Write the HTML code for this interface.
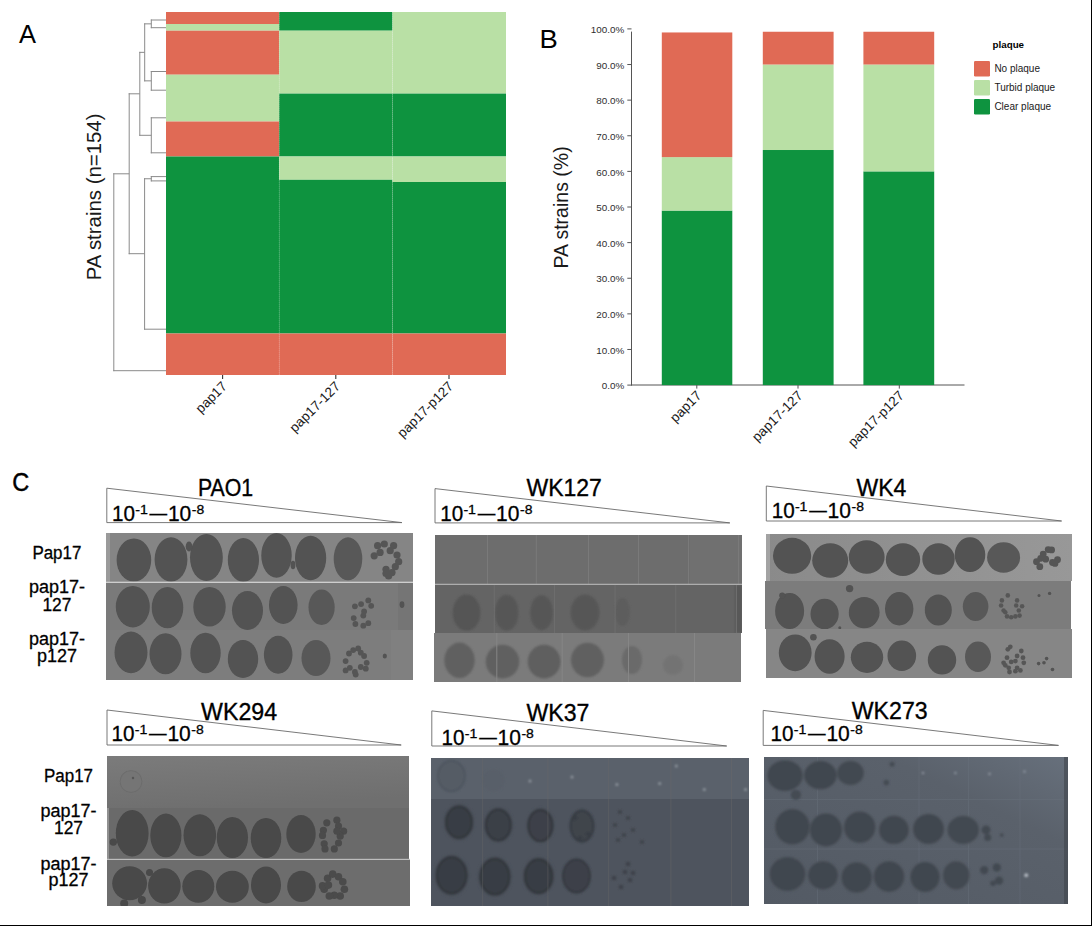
<!DOCTYPE html>
<html><head><meta charset="utf-8"><style>
html,body{margin:0;padding:0;background:#fff;}
body{width:1092px;height:926px;overflow:hidden;position:relative;}
svg{position:absolute;left:0;top:0;display:block;}
</style></head><body>
<svg width="1092" height="926" viewBox="0 0 1092 926">
<rect x="1091" y="0" width="1" height="926" fill="#000"/>
<rect x="0" y="925" width="1092" height="1" fill="#000"/>
<text x="19" y="43.2" font-family="Liberation Sans, sans-serif" font-size="25.5" fill="#000">A</text>
<rect x="166" y="12" width="113.20" height="12.00" fill="#E06A55"/>
<rect x="166" y="24" width="113.20" height="6.70" fill="#B9E0A5"/>
<rect x="166" y="30.7" width="113.20" height="44.00" fill="#E06A55"/>
<rect x="166" y="74.7" width="113.20" height="46.80" fill="#B9E0A5"/>
<rect x="166" y="121.5" width="113.20" height="35.00" fill="#E06A55"/>
<rect x="166" y="156.5" width="113.20" height="177.00" fill="#0E933F"/>
<rect x="166" y="333.5" width="113.20" height="41.50" fill="#E06A55"/>
<rect x="279.2" y="12" width="113.30" height="18.70" fill="#0E933F"/>
<rect x="279.2" y="30.7" width="113.30" height="62.90" fill="#B9E0A5"/>
<rect x="279.2" y="93.6" width="113.30" height="62.90" fill="#0E933F"/>
<rect x="279.2" y="156.5" width="113.30" height="23.30" fill="#B9E0A5"/>
<rect x="279.2" y="179.8" width="113.30" height="153.70" fill="#0E933F"/>
<rect x="279.2" y="333.5" width="113.30" height="41.50" fill="#E06A55"/>
<rect x="392.5" y="12" width="113.50" height="81.60" fill="#B9E0A5"/>
<rect x="392.5" y="93.6" width="113.50" height="62.90" fill="#0E933F"/>
<rect x="392.5" y="156.5" width="113.50" height="25.50" fill="#B9E0A5"/>
<rect x="392.5" y="182" width="113.50" height="151.50" fill="#0E933F"/>
<rect x="392.5" y="333.5" width="113.50" height="41.50" fill="#E06A55"/>
<line x1="279.2" y1="12" x2="279.2" y2="375" stroke="#fff" stroke-opacity="0.25" stroke-width="0.6" stroke-dasharray="1 1"/>
<line x1="392.5" y1="12" x2="392.5" y2="375" stroke="#fff" stroke-opacity="0.25" stroke-width="0.6" stroke-dasharray="1 1"/>
<path d="M150.8,20H166M150.8,27.7H166M151.3,19.5V28.2M144.2,23.85H151.3M150.8,71.5H166M150.8,90.2H166M151.3,71.0V90.7M144.2,80.85H151.3M144.7,23.35V81.35M139.3,52.35H144.7M150.8,117.8H166M150.8,152.8H166M151.3,117.3V153.3M139.3,135.3H151.3M139.8,51.85V135.8M128.7,93.8H139.8M129.2,93.3V254.2M150.8,176.6H166M150.8,180.9H166M151.3,176.1V181.4M144.1,178.75H151.3M144.1,329.2H166M144.6,178.25V329.7M128.7,253.7H144.6M113.3,173.8H129.2M113.3,370.7H166M113.8,173.3V371.2" stroke="#8a8a8a" stroke-width="1" fill="none"/>
<line x1="222.6" y1="375" x2="222.6" y2="379" stroke="#333" stroke-width="1.1"/>
<text x="227.79999999999998" y="387.2" font-family="Liberation Sans, sans-serif" font-size="13.6" fill="#1a1a1a" text-anchor="end" transform="rotate(-45 227.79999999999998 387.2)">pap17</text>
<line x1="335.8" y1="375" x2="335.8" y2="379" stroke="#333" stroke-width="1.1"/>
<text x="341.0" y="387.2" font-family="Liberation Sans, sans-serif" font-size="13.6" fill="#1a1a1a" text-anchor="end" transform="rotate(-45 341.0 387.2)">pap17-127</text>
<line x1="449" y1="375" x2="449" y2="379" stroke="#333" stroke-width="1.1"/>
<text x="454.2" y="387.2" font-family="Liberation Sans, sans-serif" font-size="13.6" fill="#1a1a1a" text-anchor="end" transform="rotate(-45 454.2 387.2)">pap17-p127</text>
<text x="100.6" y="196.9" font-family="Liberation Sans, sans-serif" font-size="20.4" fill="#1a1a1a" text-anchor="middle" transform="rotate(-90 100.6 196.9)">PA strains (n=154)</text>
<text x="539.6" y="48.3" font-family="Liberation Sans, sans-serif" font-size="25" fill="#000" textLength="18.3" lengthAdjust="spacingAndGlyphs">B</text>
<path d="M631.5,31.6V385.5M631,385H964.5" stroke="#555" stroke-width="1" fill="none"/>
<line x1="627.3" y1="385.10" x2="631.5" y2="385.10" stroke="#555" stroke-width="1"/>
<text x="624.3" y="389.30" font-family="Liberation Sans, sans-serif" font-size="9.9" fill="#2e2e2e" text-anchor="end">0.0%</text>
<line x1="627.3" y1="349.48" x2="631.5" y2="349.48" stroke="#555" stroke-width="1"/>
<text x="624.3" y="353.68" font-family="Liberation Sans, sans-serif" font-size="9.9" fill="#2e2e2e" text-anchor="end">10.0%</text>
<line x1="627.3" y1="313.86" x2="631.5" y2="313.86" stroke="#555" stroke-width="1"/>
<text x="624.3" y="318.06" font-family="Liberation Sans, sans-serif" font-size="9.9" fill="#2e2e2e" text-anchor="end">20.0%</text>
<line x1="627.3" y1="278.24" x2="631.5" y2="278.24" stroke="#555" stroke-width="1"/>
<text x="624.3" y="282.44" font-family="Liberation Sans, sans-serif" font-size="9.9" fill="#2e2e2e" text-anchor="end">30.0%</text>
<line x1="627.3" y1="242.62" x2="631.5" y2="242.62" stroke="#555" stroke-width="1"/>
<text x="624.3" y="246.82" font-family="Liberation Sans, sans-serif" font-size="9.9" fill="#2e2e2e" text-anchor="end">40.0%</text>
<line x1="627.3" y1="207.00" x2="631.5" y2="207.00" stroke="#555" stroke-width="1"/>
<text x="624.3" y="211.20" font-family="Liberation Sans, sans-serif" font-size="9.9" fill="#2e2e2e" text-anchor="end">50.0%</text>
<line x1="627.3" y1="171.38" x2="631.5" y2="171.38" stroke="#555" stroke-width="1"/>
<text x="624.3" y="175.58" font-family="Liberation Sans, sans-serif" font-size="9.9" fill="#2e2e2e" text-anchor="end">60.0%</text>
<line x1="627.3" y1="135.76" x2="631.5" y2="135.76" stroke="#555" stroke-width="1"/>
<text x="624.3" y="139.96" font-family="Liberation Sans, sans-serif" font-size="9.9" fill="#2e2e2e" text-anchor="end">70.0%</text>
<line x1="627.3" y1="100.14" x2="631.5" y2="100.14" stroke="#555" stroke-width="1"/>
<text x="624.3" y="104.34" font-family="Liberation Sans, sans-serif" font-size="9.9" fill="#2e2e2e" text-anchor="end">80.0%</text>
<line x1="627.3" y1="64.52" x2="631.5" y2="64.52" stroke="#555" stroke-width="1"/>
<text x="624.3" y="68.72" font-family="Liberation Sans, sans-serif" font-size="9.9" fill="#2e2e2e" text-anchor="end">90.0%</text>
<line x1="627.3" y1="28.90" x2="631.5" y2="28.90" stroke="#555" stroke-width="1"/>
<text x="624.3" y="33.10" font-family="Liberation Sans, sans-serif" font-size="9.9" fill="#2e2e2e" text-anchor="end">100.0%</text>
<rect x="661.8" y="210.56" width="70.5" height="174.54" fill="#0E933F"/>
<rect x="661.8" y="157.13" width="70.5" height="53.43" fill="#B9E0A5"/>
<rect x="661.8" y="32.46" width="70.5" height="124.67" fill="#E06A55"/>
<rect x="762.8" y="150.01" width="70.8" height="235.09" fill="#0E933F"/>
<rect x="762.8" y="64.52" width="70.8" height="85.49" fill="#B9E0A5"/>
<rect x="762.8" y="31.75" width="70.8" height="32.77" fill="#E06A55"/>
<rect x="863.4" y="171.38" width="70.8" height="213.72" fill="#0E933F"/>
<rect x="863.4" y="64.52" width="70.8" height="106.86" fill="#B9E0A5"/>
<rect x="863.4" y="31.75" width="70.8" height="32.77" fill="#E06A55"/>
<line x1="696.8" y1="385" x2="696.8" y2="388.6" stroke="#555" stroke-width="1"/>
<text x="702.3" y="396.5" font-family="Liberation Sans, sans-serif" font-size="13.6" fill="#1a1a1a" text-anchor="end" transform="rotate(-45 702.3 396.5)">pap17</text>
<line x1="798" y1="385" x2="798" y2="388.6" stroke="#555" stroke-width="1"/>
<text x="803.5" y="396.5" font-family="Liberation Sans, sans-serif" font-size="13.6" fill="#1a1a1a" text-anchor="end" transform="rotate(-45 803.5 396.5)">pap17-127</text>
<line x1="899.3" y1="385" x2="899.3" y2="388.6" stroke="#555" stroke-width="1"/>
<text x="904.8" y="396.5" font-family="Liberation Sans, sans-serif" font-size="13.6" fill="#1a1a1a" text-anchor="end" transform="rotate(-45 904.8 396.5)">pap17-p127</text>
<text x="567.6" y="207.4" font-family="Liberation Sans, sans-serif" font-size="19.5" fill="#1a1a1a" text-anchor="middle" transform="rotate(-90 567.6 207.4)">PA strains (%)</text>
<text x="992.5" y="48.1" font-family="Liberation Sans, sans-serif" font-size="9.8" font-weight="bold" fill="#000">plaque</text>
<rect x="974" y="61" width="16" height="15.4" rx="1.2" fill="#E06A55"/>
<text x="994.4" y="71.8" font-family="Liberation Sans, sans-serif" font-size="10" fill="#1a1a1a">No plaque</text>
<rect x="974" y="80" width="16" height="15.4" rx="1.2" fill="#B9E0A5"/>
<text x="994.4" y="90.8" font-family="Liberation Sans, sans-serif" font-size="10" fill="#1a1a1a">Turbid plaque</text>
<rect x="974" y="99" width="16" height="15.4" rx="1.2" fill="#0E933F"/>
<text x="994.4" y="109.8" font-family="Liberation Sans, sans-serif" font-size="10" fill="#1a1a1a">Clear plaque</text>
<text x="12.2" y="491.2" font-family="Liberation Sans, sans-serif" font-size="26.4" fill="#000" stroke="#000" stroke-width="0.45" textLength="17" lengthAdjust="spacingAndGlyphs">C</text>
<path d="M106.8,488.2L401.9,522.6H106.8Z" fill="#fff" stroke="#6a6a6a" stroke-width="0.9"/>
<text x="197.9" y="495.6" font-family="Liberation Sans, sans-serif" font-size="23.6" fill="#000" stroke="#000" stroke-width="0.35" textLength="55.2" lengthAdjust="spacingAndGlyphs">PAO1</text>
<text font-family="Liberation Sans, sans-serif" fill="#000" stroke="#000" stroke-width="0.3"><tspan x="112.0" y="520.8" font-size="21.3" textLength="23" lengthAdjust="spacingAndGlyphs">10</tspan><tspan x="135.2" y="513.8" font-size="13.2" textLength="12.6" lengthAdjust="spacingAndGlyphs">-1</tspan><tspan x="149.6" y="519.6" font-size="20" textLength="17.6" lengthAdjust="spacingAndGlyphs">&#8212;</tspan><tspan x="167.9" y="520.8" font-size="21.3" textLength="23.4" lengthAdjust="spacingAndGlyphs">10</tspan><tspan x="191.8" y="513.8" font-size="13.2" textLength="12.4" lengthAdjust="spacingAndGlyphs">-8</tspan></text>
<text x="56.9" y="558.8" font-family="Liberation Sans, sans-serif" font-size="18" fill="#000" stroke="#000" stroke-width="0.3" text-anchor="middle" textLength="49" lengthAdjust="spacingAndGlyphs">Pap17</text>
<text x="56.9" y="593.2" font-family="Liberation Sans, sans-serif" font-size="18" fill="#000" stroke="#000" stroke-width="0.3" text-anchor="middle" textLength="56" lengthAdjust="spacingAndGlyphs">pap17-</text>
<text x="56.9" y="610.5" font-family="Liberation Sans, sans-serif" font-size="18" fill="#000" stroke="#000" stroke-width="0.3" text-anchor="middle" textLength="29" lengthAdjust="spacingAndGlyphs">127</text>
<text x="56.9" y="645.4" font-family="Liberation Sans, sans-serif" font-size="18" fill="#000" stroke="#000" stroke-width="0.3" text-anchor="middle" textLength="56" lengthAdjust="spacingAndGlyphs">pap17-</text>
<text x="56.9" y="661.6" font-family="Liberation Sans, sans-serif" font-size="18" fill="#000" stroke="#000" stroke-width="0.3" text-anchor="middle" textLength="40" lengthAdjust="spacingAndGlyphs">p127</text>
<g clip-path="url(#c1)">
<rect x="106" y="533" width="307" height="49" fill="#858585"/>
<g filter="url(#soft2)">
<rect x="106" y="533" width="4" height="49" fill="#9a9a9a"/>
<ellipse cx="133.9" cy="560" rx="17.3" ry="21.6" fill="#525252"/>
<ellipse cx="171" cy="559.5" rx="16.4" ry="22.2" fill="#525252"/>
<ellipse cx="206.4" cy="557.5" rx="16.4" ry="23.6" fill="#525252"/>
<ellipse cx="243.4" cy="560" rx="15.6" ry="22" fill="#525252"/>
<ellipse cx="276.5" cy="555.4" rx="15.2" ry="22.3" fill="#525252"/>
<ellipse cx="310.6" cy="558" rx="15.6" ry="22.3" fill="#525252"/>
<ellipse cx="348" cy="558.8" rx="14.3" ry="21.5" fill="#585858"/>
<ellipse cx="189" cy="546.5" rx="3.3" ry="5" fill="#525252"/>
<ellipse cx="293" cy="565" rx="2.4" ry="4.2" fill="#525252"/>
<circle cx="377.6" cy="545.7" r="3.6" fill="#555"/>
<circle cx="384.3" cy="544" r="3.6" fill="#555"/>
<circle cx="393.6" cy="545.7" r="3.6" fill="#555"/>
<circle cx="374.2" cy="555.8" r="3.6" fill="#555"/>
<circle cx="380.1" cy="552.4" r="3.6" fill="#555"/>
<circle cx="390.2" cy="550.7" r="3.6" fill="#555"/>
<circle cx="397" cy="555" r="3.6" fill="#555"/>
<circle cx="398.7" cy="561.7" r="3.6" fill="#555"/>
<circle cx="395.3" cy="566.7" r="3.6" fill="#555"/>
<circle cx="386" cy="569.3" r="3.6" fill="#555"/>
<circle cx="392" cy="572.6" r="3.6" fill="#555"/>
<circle cx="386" cy="573.5" r="3.6" fill="#555"/>
<circle cx="388.6" cy="576" r="3.6" fill="#555"/>
</g>
</g>
<rect x="106" y="581.6" width="307" height="1.2" fill="#c2c2c2"/>
<g clip-path="url(#c2)">
<rect x="106" y="583" width="307" height="47" fill="#7a7a7a"/>
<g filter="url(#soft2)">
<ellipse cx="132.8" cy="606.7" rx="17" ry="20.7" fill="#525252"/>
<ellipse cx="167.5" cy="607.6" rx="15.8" ry="20.6" fill="#525252"/>
<ellipse cx="209.5" cy="606.8" rx="16.2" ry="19.8" fill="#525252"/>
<ellipse cx="247.5" cy="610.5" rx="15.5" ry="19.5" fill="#525252"/>
<ellipse cx="283.3" cy="605" rx="14.3" ry="19" fill="#525252"/>
<ellipse cx="321.6" cy="607.2" rx="13.1" ry="17.7" fill="#585858"/>
<circle cx="354.9" cy="606.3" r="2.9" fill="#555"/>
<circle cx="361.1" cy="604.1" r="2.9" fill="#555"/>
<circle cx="368.3" cy="600.4" r="2.9" fill="#555"/>
<circle cx="371.2" cy="605.8" r="2.9" fill="#555"/>
<circle cx="364.1" cy="611.4" r="2.9" fill="#555"/>
<circle cx="363.3" cy="615.6" r="2.9" fill="#555"/>
<circle cx="353.7" cy="618.1" r="2.9" fill="#555"/>
<circle cx="355.4" cy="624" r="2.9" fill="#555"/>
<circle cx="363.3" cy="625.7" r="2.9" fill="#555"/>
<circle cx="368.3" cy="623.2" r="2.9" fill="#555"/>
<rect x="398" y="583" width="15" height="47" fill="#757575"/>
<ellipse cx="402" cy="604.6" rx="2.4" ry="3.4" fill="#525252"/>
</g>
</g>
<g clip-path="url(#c3)">
<rect x="106" y="630" width="307" height="50" fill="#7d7d7d"/>
<g filter="url(#soft2)">
<rect x="391" y="630" width="22" height="50" fill="#808080"/>
<ellipse cx="131" cy="652.4" rx="16.5" ry="20.8" fill="#525252"/>
<ellipse cx="165.5" cy="653.8" rx="16" ry="20.5" fill="#525252"/>
<ellipse cx="205.5" cy="653" rx="15.2" ry="20.2" fill="#525252"/>
<ellipse cx="243" cy="659" rx="15.2" ry="19" fill="#525252"/>
<ellipse cx="278.2" cy="654.8" rx="14.3" ry="19" fill="#525252"/>
<ellipse cx="316" cy="658" rx="14.5" ry="18" fill="#585858"/>
<circle cx="349" cy="653.5" r="2.9" fill="#555"/>
<circle cx="353.2" cy="650.1" r="2.9" fill="#555"/>
<circle cx="358.2" cy="648.5" r="2.9" fill="#555"/>
<circle cx="360.8" cy="652.7" r="2.9" fill="#555"/>
<circle cx="364.1" cy="656" r="2.9" fill="#555"/>
<circle cx="366.7" cy="662.8" r="2.9" fill="#555"/>
<circle cx="365.8" cy="668.7" r="2.9" fill="#555"/>
<circle cx="360.8" cy="667" r="2.9" fill="#555"/>
<circle cx="354.9" cy="672" r="2.9" fill="#555"/>
<circle cx="349.8" cy="667.8" r="2.9" fill="#555"/>
<circle cx="345.6" cy="661.1" r="2.9" fill="#555"/>
<circle cx="345.6" cy="670.4" r="2.9" fill="#555"/>
<circle cx="355.7" cy="674.6" r="2.9" fill="#555"/>
<ellipse cx="384.8" cy="656" rx="2.1" ry="2.6" fill="#525252"/>
</g>
</g>
<path d="M435,488.6L729.8,522.9H435Z" fill="#fff" stroke="#6a6a6a" stroke-width="0.9"/>
<text x="526.5" y="495.9" font-family="Liberation Sans, sans-serif" font-size="23.6" fill="#000" stroke="#000" stroke-width="0.35" textLength="75.4" lengthAdjust="spacingAndGlyphs">WK127</text>
<text font-family="Liberation Sans, sans-serif" fill="#000" stroke="#000" stroke-width="0.3"><tspan x="440.2" y="520.9" font-size="21.3" textLength="23" lengthAdjust="spacingAndGlyphs">10</tspan><tspan x="463.4" y="513.9" font-size="13.2" textLength="12.6" lengthAdjust="spacingAndGlyphs">-1</tspan><tspan x="477.8" y="519.7" font-size="20" textLength="17.6" lengthAdjust="spacingAndGlyphs">&#8212;</tspan><tspan x="496.1" y="520.9" font-size="21.3" textLength="23.4" lengthAdjust="spacingAndGlyphs">10</tspan><tspan x="520.0" y="513.9" font-size="13.2" textLength="12.4" lengthAdjust="spacingAndGlyphs">-8</tspan></text>
<g clip-path="url(#c4)">
<rect x="435" y="535" width="307" height="49" fill="#6d6d6d"/>
<rect x="690" y="535" width="52" height="49" fill="#707070"/>
<rect x="487" y="535" width="1" height="49" fill="#7a7a7a"/><rect x="535.8" y="535" width="1" height="49" fill="#7a7a7a"/><rect x="588" y="535" width="1" height="49" fill="#7a7a7a"/><rect x="638" y="535" width="1" height="49" fill="#7a7a7a"/><rect x="688" y="535" width="1" height="49" fill="#7a7a7a"/><rect x="738" y="535" width="1" height="49" fill="#7a7a7a"/></g>
<rect x="435" y="583.7" width="307" height="1.2" fill="#a5a5a5"/>
<g clip-path="url(#c5)">
<rect x="435" y="585" width="307" height="48" fill="#646464"/>
<g filter="url(#soft)">
<ellipse cx="466.6" cy="612.7" rx="13.9" ry="18.1" fill="#555"/>
<ellipse cx="506.7" cy="612.7" rx="11.8" ry="18" fill="#565656"/>
<ellipse cx="541.6" cy="612.7" rx="11.4" ry="17.5" fill="#565656"/>
<ellipse cx="585" cy="612.5" rx="14.5" ry="18" fill="#575757"/>
<ellipse cx="622.5" cy="612" rx="7.5" ry="14" fill="#5d5d5d"/>
<rect x="735" y="585" width="7" height="48" fill="#595959"/>
</g>
<rect x="493.8" y="585" width="1" height="48" fill="#6e6e6e"/><rect x="553.9" y="585" width="1" height="48" fill="#6e6e6e"/><rect x="614.6" y="585" width="1" height="48" fill="#6e6e6e"/><rect x="675.3" y="585" width="1" height="48" fill="#6e6e6e"/><rect x="736" y="585" width="1" height="48" fill="#6e6e6e"/></g>
<g clip-path="url(#c6)">
<rect x="434" y="633" width="307" height="49" fill="#7b7b7b"/>
<g filter="url(#soft)">
<ellipse cx="459.5" cy="660.3" rx="15.2" ry="17.7" fill="#606060"/>
<ellipse cx="502.5" cy="661.6" rx="16.8" ry="16.8" fill="#606060"/>
<ellipse cx="544.1" cy="661.6" rx="16.4" ry="16.8" fill="#5f5f5f"/>
<ellipse cx="587.5" cy="660" rx="16.5" ry="17.2" fill="#616161"/>
<ellipse cx="632" cy="660" rx="10" ry="14" fill="#6a6a6a"/>
<ellipse cx="673" cy="665" rx="10" ry="10" fill="#737373"/>
</g>
<rect x="496.3" y="633" width="1" height="49" fill="#868686"/><rect x="561.7" y="633" width="1" height="49" fill="#868686"/><rect x="628" y="633" width="1" height="49" fill="#868686"/><rect x="694" y="633" width="1" height="49" fill="#868686"/></g>
<path d="M766.3,486L1061.6,521H766.3Z" fill="#fff" stroke="#6a6a6a" stroke-width="0.9"/>
<text x="856.5" y="495.7" font-family="Liberation Sans, sans-serif" font-size="23.6" fill="#000" stroke="#000" stroke-width="0.35" textLength="49.8" lengthAdjust="spacingAndGlyphs">WK4</text>
<text font-family="Liberation Sans, sans-serif" fill="#000" stroke="#000" stroke-width="0.3"><tspan x="771.7" y="518.2" font-size="21.3" textLength="23" lengthAdjust="spacingAndGlyphs">10</tspan><tspan x="794.9" y="511.2" font-size="13.2" textLength="12.6" lengthAdjust="spacingAndGlyphs">-1</tspan><tspan x="809.3" y="517.0" font-size="20" textLength="17.6" lengthAdjust="spacingAndGlyphs">&#8212;</tspan><tspan x="827.6" y="518.2" font-size="21.3" textLength="23.4" lengthAdjust="spacingAndGlyphs">10</tspan><tspan x="851.5" y="511.2" font-size="13.2" textLength="12.4" lengthAdjust="spacingAndGlyphs">-8</tspan></text>
<g clip-path="url(#c7)">
<rect x="766" y="534" width="306" height="47" fill="url(#g4)"/>
<g filter="url(#soft2)">
<rect x="766" y="534" width="4" height="47" fill="#a3a3a3"/>
<ellipse cx="792.1" cy="555.8" rx="19.1" ry="18" fill="#525252"/>
<ellipse cx="830.2" cy="560.5" rx="18" ry="17.3" fill="#525252"/>
<ellipse cx="866.7" cy="557" rx="17.9" ry="16.8" fill="#525252"/>
<ellipse cx="903" cy="559.6" rx="17.2" ry="16.4" fill="#525252"/>
<ellipse cx="938.5" cy="559" rx="16.2" ry="15.8" fill="#525252"/>
<ellipse cx="970" cy="554.7" rx="15.3" ry="17.4" fill="#525252"/>
<ellipse cx="1003.6" cy="557.5" rx="16.5" ry="15.2" fill="#585858"/>
<circle cx="1048.2" cy="549.6" r="3.4" fill="#555"/>
<circle cx="1051.6" cy="549.9" r="3.4" fill="#555"/>
<circle cx="1043.2" cy="554.1" r="3.4" fill="#555"/>
<circle cx="1045.7" cy="559.2" r="3.4" fill="#555"/>
<circle cx="1040.7" cy="558.3" r="3.4" fill="#555"/>
<circle cx="1036.5" cy="561.7" r="3.4" fill="#555"/>
<circle cx="1039.8" cy="566.7" r="3.4" fill="#555"/>
<circle cx="1052.5" cy="562.5" r="3.4" fill="#555"/>
<circle cx="1057.5" cy="559.7" r="3.4" fill="#555"/>
<circle cx="1055" cy="563.4" r="3.4" fill="#555"/>
</g>
</g>
<g clip-path="url(#c8)">
<rect x="765" y="581" width="306" height="48" fill="#7c7c7c"/>
<g filter="url(#soft2)">
<ellipse cx="789.6" cy="611" rx="14.5" ry="18.1" fill="#525252"/>
<ellipse cx="782.2" cy="595.4" rx="3" ry="3" fill="#525252"/>
<ellipse cx="824.6" cy="614" rx="14.1" ry="15.2" fill="#525252"/>
<ellipse cx="864.2" cy="612.6" rx="15.4" ry="15.6" fill="#525252"/>
<ellipse cx="899.2" cy="608.7" rx="14.2" ry="16.7" fill="#525252"/>
<ellipse cx="849.6" cy="588.6" rx="3.7" ry="3.7" fill="#525252"/>
<ellipse cx="839.8" cy="627.7" rx="1.5" ry="1.5" fill="#525252"/>
<ellipse cx="938.3" cy="610" rx="13.5" ry="15.6" fill="#525252"/>
<ellipse cx="975.6" cy="606.5" rx="12.8" ry="14.5" fill="#585858"/>
<circle cx="1007.8" cy="595.4" r="2.3" fill="#575757"/>
<circle cx="1001.9" cy="600.4" r="2.3" fill="#575757"/>
<circle cx="1017.1" cy="600.4" r="2.3" fill="#575757"/>
<circle cx="1001.1" cy="605.5" r="2.3" fill="#575757"/>
<circle cx="1016.2" cy="605.5" r="2.3" fill="#575757"/>
<circle cx="1022.1" cy="606.3" r="2.3" fill="#575757"/>
<circle cx="1003.6" cy="610.5" r="2.3" fill="#575757"/>
<circle cx="1018.8" cy="610.5" r="2.3" fill="#575757"/>
<circle cx="1007" cy="616.4" r="2.3" fill="#575757"/>
<circle cx="1011.2" cy="617.3" r="2.3" fill="#575757"/>
<circle cx="1015.4" cy="616.4" r="2.3" fill="#575757"/>
<circle cx="1019.6" cy="615.6" r="2.3" fill="#575757"/>
<circle cx="1005.3" cy="612.2" r="2.3" fill="#575757"/>
<ellipse cx="1039" cy="595.4" rx="1.5" ry="1.5" fill="#525252"/>
<ellipse cx="1049.6" cy="593.4" rx="1.7" ry="1.7" fill="#525252"/>
</g>
</g>
<g clip-path="url(#c9)">
<rect x="766" y="629" width="306" height="49" fill="#868686"/>
<g filter="url(#soft2)">
<ellipse cx="795.2" cy="652.8" rx="16.4" ry="18.4" fill="#525252"/>
<ellipse cx="813.4" cy="637.2" rx="3.3" ry="3.3" fill="#525252"/>
<ellipse cx="829.6" cy="656.5" rx="15" ry="17.3" fill="#525252"/>
<ellipse cx="867" cy="657.3" rx="16.2" ry="15.6" fill="#525252"/>
<ellipse cx="901.8" cy="655.7" rx="14.3" ry="15.2" fill="#525252"/>
<ellipse cx="942" cy="659.9" rx="14.2" ry="14.7" fill="#525252"/>
<ellipse cx="978" cy="656.8" rx="13" ry="15.2" fill="#585858"/>
<circle cx="1010.3" cy="646.8" r="2.4" fill="#575757"/>
<circle cx="1007.8" cy="649.3" r="2.4" fill="#575757"/>
<circle cx="1021.3" cy="651" r="2.4" fill="#575757"/>
<circle cx="1007" cy="657.7" r="2.4" fill="#575757"/>
<circle cx="1017.1" cy="656" r="2.4" fill="#575757"/>
<circle cx="1023" cy="657.7" r="2.4" fill="#575757"/>
<circle cx="1003.6" cy="662.8" r="2.4" fill="#575757"/>
<circle cx="1011.2" cy="661.9" r="2.4" fill="#575757"/>
<circle cx="1015.4" cy="661.1" r="2.4" fill="#575757"/>
<circle cx="1023.8" cy="662.8" r="2.4" fill="#575757"/>
<circle cx="1008.7" cy="667.8" r="2.4" fill="#575757"/>
<circle cx="1017.1" cy="667.8" r="2.4" fill="#575757"/>
<circle cx="1020.4" cy="670.4" r="2.4" fill="#575757"/>
<circle cx="1009.5" cy="672" r="2.4" fill="#575757"/>
<circle cx="1015.4" cy="671.2" r="2.4" fill="#575757"/>
<circle cx="1005.3" cy="665.3" r="2.4" fill="#575757"/>
<circle cx="1038.6" cy="663.6" r="1.8" fill="#525252"/>
<circle cx="1044" cy="662.8" r="1.8" fill="#525252"/>
<circle cx="1046.6" cy="658.6" r="1.8" fill="#525252"/>
<circle cx="1052.5" cy="669.5" r="1.8" fill="#525252"/>
</g>
</g>
<path d="M107,710L401.2,745H107Z" fill="#fff" stroke="#6a6a6a" stroke-width="0.9"/>
<text x="201.1" y="720.3" font-family="Liberation Sans, sans-serif" font-size="23.6" fill="#000" stroke="#000" stroke-width="0.35" textLength="76.0" lengthAdjust="spacingAndGlyphs">WK294</text>
<text font-family="Liberation Sans, sans-serif" fill="#000" stroke="#000" stroke-width="0.3"><tspan x="111.5" y="741.4" font-size="21.3" textLength="23" lengthAdjust="spacingAndGlyphs">10</tspan><tspan x="134.7" y="734.4" font-size="13.2" textLength="12.6" lengthAdjust="spacingAndGlyphs">-1</tspan><tspan x="149.1" y="740.2" font-size="20" textLength="17.6" lengthAdjust="spacingAndGlyphs">&#8212;</tspan><tspan x="167.4" y="741.4" font-size="21.3" textLength="23.4" lengthAdjust="spacingAndGlyphs">10</tspan><tspan x="191.3" y="734.4" font-size="13.2" textLength="12.4" lengthAdjust="spacingAndGlyphs">-8</tspan></text>
<text x="68.5" y="782.2" font-family="Liberation Sans, sans-serif" font-size="18" fill="#000" stroke="#000" stroke-width="0.3" text-anchor="middle" textLength="49" lengthAdjust="spacingAndGlyphs">Pap17</text>
<text x="68.5" y="816.6" font-family="Liberation Sans, sans-serif" font-size="18" fill="#000" stroke="#000" stroke-width="0.3" text-anchor="middle" textLength="56" lengthAdjust="spacingAndGlyphs">pap17-</text>
<text x="68.5" y="834.1" font-family="Liberation Sans, sans-serif" font-size="18" fill="#000" stroke="#000" stroke-width="0.3" text-anchor="middle" textLength="29" lengthAdjust="spacingAndGlyphs">127</text>
<text x="68.5" y="870" font-family="Liberation Sans, sans-serif" font-size="18" fill="#000" stroke="#000" stroke-width="0.3" text-anchor="middle" textLength="56" lengthAdjust="spacingAndGlyphs">pap17-</text>
<text x="68.5" y="885.5" font-family="Liberation Sans, sans-serif" font-size="18" fill="#000" stroke="#000" stroke-width="0.3" text-anchor="middle" textLength="40" lengthAdjust="spacingAndGlyphs">p127</text>
<g clip-path="url(#c10)">
<rect x="107" y="756" width="302" height="52" fill="url(#g294)"/>
<g filter="url(#soft2)">
<ellipse cx="131" cy="781.5" rx="11.3" ry="11.3" fill="#6c6c6c"/>
<ellipse cx="131" cy="781.5" rx="10.5" ry="10.5" fill="#747474"/>
<ellipse cx="133" cy="778" rx="1.2" ry="1.2" fill="#555"/>
</g>
</g>
<g clip-path="url(#c11)">
<rect x="107" y="808" width="302" height="51" fill="#6a6a6a"/>
<g filter="url(#soft2)">
<rect x="107" y="808" width="2" height="51" fill="#909090"/>
<ellipse cx="132.2" cy="833.3" rx="16.4" ry="23.2" fill="#484848"/>
<ellipse cx="113.3" cy="842.1" rx="3.7" ry="3.7" fill="#484848"/>
<ellipse cx="165.9" cy="835.4" rx="15.6" ry="21.9" fill="#484848"/>
<ellipse cx="199.8" cy="835.3" rx="16.3" ry="21" fill="#484848"/>
<ellipse cx="232.4" cy="837.5" rx="15.6" ry="20.6" fill="#484848"/>
<ellipse cx="266" cy="838" rx="15.3" ry="20" fill="#484848"/>
<ellipse cx="301" cy="834" rx="14.7" ry="19" fill="#4a4a4a"/>
<circle cx="326.8" cy="822.8" r="3.6" fill="#4b4b4b"/>
<circle cx="323.4" cy="830.3" r="3.6" fill="#4b4b4b"/>
<circle cx="322.5" cy="835.4" r="3.6" fill="#4b4b4b"/>
<circle cx="324.2" cy="843.8" r="3.6" fill="#4b4b4b"/>
<circle cx="325" cy="848.9" r="3.6" fill="#4b4b4b"/>
<circle cx="336.9" cy="820.2" r="3.6" fill="#4b4b4b"/>
<circle cx="338.5" cy="826.1" r="3.6" fill="#4b4b4b"/>
<circle cx="343.6" cy="831.2" r="3.6" fill="#4b4b4b"/>
<circle cx="340.2" cy="836.2" r="3.6" fill="#4b4b4b"/>
<circle cx="338.5" cy="843" r="3.6" fill="#4b4b4b"/>
<circle cx="334.3" cy="848.9" r="3.6" fill="#4b4b4b"/>
<circle cx="336.9" cy="831.2" r="3.6" fill="#4b4b4b"/>
</g>
</g>
<rect x="107" y="858.8" width="303" height="1.2" fill="#bdbdbd"/>
<g clip-path="url(#c12)">
<rect x="107" y="860" width="303" height="46" fill="#6d6d6d"/>
<g filter="url(#soft2)">
<ellipse cx="129.6" cy="883.2" rx="17.4" ry="17" fill="#484848"/>
<ellipse cx="149.5" cy="872.5" rx="3.5" ry="3.5" fill="#484848"/>
<ellipse cx="141.9" cy="899.9" rx="4" ry="4" fill="#484848"/>
<ellipse cx="124.2" cy="903.6" rx="4" ry="4" fill="#484848"/>
<ellipse cx="164.4" cy="885.9" rx="16.3" ry="17.7" fill="#484848"/>
<ellipse cx="198.3" cy="886.3" rx="16" ry="16.4" fill="#484848"/>
<ellipse cx="232.4" cy="886.8" rx="16.4" ry="16" fill="#484848"/>
<ellipse cx="266" cy="885" rx="15" ry="18.5" fill="#484848"/>
<ellipse cx="301.5" cy="886.4" rx="14.3" ry="15.6" fill="#4a4a4a"/>
<circle cx="327.6" cy="878.3" r="3.8" fill="#4b4b4b"/>
<circle cx="332.7" cy="874.1" r="3.8" fill="#4b4b4b"/>
<circle cx="338.5" cy="876.7" r="3.8" fill="#4b4b4b"/>
<circle cx="342.8" cy="881.7" r="3.8" fill="#4b4b4b"/>
<circle cx="344.4" cy="889.3" r="3.8" fill="#4b4b4b"/>
<circle cx="340.2" cy="896" r="3.8" fill="#4b4b4b"/>
<circle cx="334.3" cy="895.2" r="3.8" fill="#4b4b4b"/>
<circle cx="329.3" cy="896" r="3.8" fill="#4b4b4b"/>
<circle cx="324.2" cy="889.3" r="3.8" fill="#4b4b4b"/>
<circle cx="322.5" cy="885.9" r="3.8" fill="#4b4b4b"/>
<circle cx="328.4" cy="885.1" r="3.8" fill="#4b4b4b"/>
</g>
</g>
<path d="M431.8,710.9L726.7,746H431.8Z" fill="#fff" stroke="#6a6a6a" stroke-width="0.9"/>
<text x="526.5" y="720.9" font-family="Liberation Sans, sans-serif" font-size="23.6" fill="#000" stroke="#000" stroke-width="0.35" textLength="62.8" lengthAdjust="spacingAndGlyphs">WK37</text>
<text font-family="Liberation Sans, sans-serif" fill="#000" stroke="#000" stroke-width="0.3"><tspan x="441.6" y="744.7" font-size="21.3" textLength="23" lengthAdjust="spacingAndGlyphs">10</tspan><tspan x="464.8" y="737.7" font-size="13.2" textLength="12.6" lengthAdjust="spacingAndGlyphs">-1</tspan><tspan x="479.2" y="743.5" font-size="20" textLength="17.6" lengthAdjust="spacingAndGlyphs">&#8212;</tspan><tspan x="497.5" y="744.7" font-size="21.3" textLength="23.4" lengthAdjust="spacingAndGlyphs">10</tspan><tspan x="521.4" y="737.7" font-size="13.2" textLength="12.4" lengthAdjust="spacingAndGlyphs">-8</tspan></text>
<g clip-path="url(#c13)">
<rect x="431" y="758" width="318" height="41" fill="#5a616b"/>
<g filter="url(#soft)">
<ellipse cx="451.4" cy="776" rx="14.4" ry="16.2" fill="#4d545e"/>
<ellipse cx="451.4" cy="776" rx="12.8" ry="14.6" fill="#545b65"/>
<ellipse cx="493.5" cy="780.5" rx="11" ry="11" fill="#585f69"/>
<circle cx="616.9" cy="784.4" r="1.5" fill="#8d949c"/>
<circle cx="659.7" cy="783.5" r="1.5" fill="#8d949c"/>
<circle cx="704.3" cy="789.6" r="1.5" fill="#8d949c"/>
<circle cx="745.5" cy="789.6" r="1.5" fill="#8d949c"/>
<circle cx="676.3" cy="766" r="1.5" fill="#8d949c"/>
<circle cx="530" cy="781" r="1.5" fill="#8d949c"/>
<circle cx="572" cy="777" r="1.5" fill="#8d949c"/>
</g>
</g>
<rect x="431" y="799" width="318" height="107" fill="#4e545e"/>
<g clip-path="url(#c14)">
<g filter="url(#soft)">
<ellipse cx="459" cy="822.2" rx="15.6" ry="18.6" fill="#4a5059"/>
<ellipse cx="459" cy="822.2" rx="15.6" ry="18.6" fill="#4a5059"/>
<ellipse cx="459" cy="822.2" rx="13" ry="15.8" fill="#383d44" stroke="#30353b" stroke-width="2"/>
<ellipse cx="498.3" cy="825" rx="15" ry="18" fill="#4a5059"/>
<ellipse cx="498.3" cy="825" rx="15" ry="18" fill="#4a5059"/>
<ellipse cx="498.3" cy="825" rx="12.4" ry="15.4" fill="#3b4047" stroke="#30353b" stroke-width="2"/>
<ellipse cx="540.4" cy="825.5" rx="14.2" ry="17.8" fill="#4a5059"/>
<ellipse cx="540.4" cy="825.5" rx="14.2" ry="17.8" fill="#4a5059"/>
<ellipse cx="540.4" cy="825.5" rx="12" ry="15.6" fill="#3c4148" stroke="#30353b" stroke-width="2"/>
<ellipse cx="582" cy="826" rx="11.5" ry="15.5" fill="#3f444b" stroke="#363b42" stroke-width="2"/>
<circle cx="575" cy="818" r="2.2" fill="#383d44"/>
<circle cx="588" cy="834" r="2.2" fill="#383d44"/>
<circle cx="580" cy="838" r="2.2" fill="#383d44"/>
<circle cx="620" cy="812" r="2" fill="#3d4249"/>
<circle cx="628" cy="818" r="2" fill="#3d4249"/>
<circle cx="633" cy="830" r="2" fill="#3d4249"/>
<circle cx="618" cy="840" r="2" fill="#3d4249"/>
<circle cx="615" cy="825" r="2" fill="#3d4249"/>
<circle cx="642" cy="842" r="2" fill="#3d4249"/>
<circle cx="624" cy="835" r="2" fill="#3d4249"/>
</g>
</g>
<g clip-path="url(#c15)">
<g filter="url(#soft)">
<ellipse cx="451.6" cy="875.3" rx="17.6" ry="21" fill="#4a5059"/>
<ellipse cx="451.6" cy="875.3" rx="17.6" ry="21" fill="#4a5059"/>
<ellipse cx="451.6" cy="875.3" rx="14.8" ry="18.2" fill="#383d44" stroke="#30353b" stroke-width="2.2"/>
<ellipse cx="494.9" cy="876.7" rx="17.2" ry="20.6" fill="#4a5059"/>
<ellipse cx="494.9" cy="876.7" rx="17.2" ry="20.6" fill="#4a5059"/>
<ellipse cx="494.9" cy="876.7" rx="14.4" ry="17.8" fill="#393e45" stroke="#30353b" stroke-width="2.2"/>
<ellipse cx="538.6" cy="876.2" rx="16.3" ry="19.4" fill="#4a5059"/>
<ellipse cx="538.6" cy="876.2" rx="16.3" ry="19.4" fill="#4a5059"/>
<ellipse cx="538.6" cy="876.2" rx="13.6" ry="16.8" fill="#393e45" stroke="#30353b" stroke-width="2.2"/>
<ellipse cx="576.5" cy="876" rx="13.5" ry="16.5" fill="#3c4148" stroke="#34393f" stroke-width="2"/>
<circle cx="628" cy="864" r="2.3" fill="#3c4148"/>
<circle cx="625" cy="872" r="2.3" fill="#3c4148"/>
<circle cx="630" cy="880" r="2.3" fill="#3c4148"/>
<circle cx="621" cy="887" r="2.3" fill="#3c4148"/>
<circle cx="614" cy="878" r="2.3" fill="#3c4148"/>
<circle cx="633" cy="873" r="2.3" fill="#3c4148"/>
</g>
</g>
<rect x="482.3" y="758" width="0.8" height="148" fill="#6b6a6a" opacity="0.5"/><rect x="547.5" y="758" width="0.8" height="148" fill="#6b6a6a" opacity="0.5"/><rect x="608.3" y="758" width="0.8" height="148" fill="#6b6a6a" opacity="0.5"/><rect x="670.5" y="758" width="0.8" height="148" fill="#6b6a6a" opacity="0.5"/><rect x="731.2" y="758" width="0.8" height="148" fill="#6b6a6a" opacity="0.5"/>
<path d="M763.2,710.4L1058.5,745.4H763.2Z" fill="#fff" stroke="#6a6a6a" stroke-width="0.9"/>
<text x="851.8" y="718.9" font-family="Liberation Sans, sans-serif" font-size="23.6" fill="#000" stroke="#000" stroke-width="0.35" textLength="75.8" lengthAdjust="spacingAndGlyphs">WK273</text>
<text font-family="Liberation Sans, sans-serif" fill="#000" stroke="#000" stroke-width="0.3"><tspan x="770.5" y="741.2" font-size="21.3" textLength="23" lengthAdjust="spacingAndGlyphs">10</tspan><tspan x="793.7" y="734.2" font-size="13.2" textLength="12.6" lengthAdjust="spacingAndGlyphs">-1</tspan><tspan x="808.1" y="740.0" font-size="20" textLength="17.6" lengthAdjust="spacingAndGlyphs">&#8212;</tspan><tspan x="826.4" y="741.2" font-size="21.3" textLength="23.4" lengthAdjust="spacingAndGlyphs">10</tspan><tspan x="850.3" y="734.2" font-size="13.2" textLength="12.4" lengthAdjust="spacingAndGlyphs">-8</tspan></text>
<rect x="764" y="757" width="304" height="147" fill="url(#g273)"/>
<path d="M764,799.5H1068M764,849H1068M968.5,757V904M1020,757V904M817.5,757V904M919,757V904" stroke="#6a727d" stroke-width="0.8" opacity="0.5"/>
<g clip-path="url(#c16)">
<g filter="url(#soft)">
<ellipse cx="785" cy="775.6" rx="18.2" ry="15.899999999999999" fill="#4c525a"/>
<ellipse cx="785" cy="775.6" rx="17" ry="14.7" fill="#41474f"/>
<ellipse cx="820.4" cy="775.2" rx="16.8" ry="14.6" fill="#4c525a"/>
<ellipse cx="820.4" cy="775.2" rx="15.6" ry="13.4" fill="#41474f"/>
<ellipse cx="850.5" cy="773" rx="13.799999999999999" ry="12.5" fill="#4c525a"/>
<ellipse cx="850.5" cy="773" rx="12.6" ry="11.3" fill="#434951"/>
<ellipse cx="795.9" cy="794.9" rx="5" ry="5" fill="#454b53"/>
<ellipse cx="892.1" cy="764.2" rx="2.5" ry="2.5" fill="#454b53"/>
<ellipse cx="886.3" cy="782.6" rx="2.8" ry="2.8" fill="#454b53"/>
<circle cx="923" cy="773" r="1.3" fill="#8a929c"/>
<circle cx="955.4" cy="773" r="1.3" fill="#8a929c"/>
<circle cx="989.5" cy="773.9" r="1.3" fill="#8a929c"/>
<circle cx="1024.5" cy="771.6" r="1.3" fill="#8a929c"/>
</g>
</g>
<g clip-path="url(#c17)">
<g filter="url(#soft)">
<ellipse cx="792.4" cy="826.8" rx="17.9" ry="18.2" fill="#4c525a"/>
<ellipse cx="792.4" cy="826.8" rx="16.7" ry="17" fill="#41474f"/>
<ellipse cx="826" cy="829.9" rx="16.6" ry="17.0" fill="#4c525a"/>
<ellipse cx="826" cy="829.9" rx="15.4" ry="15.8" fill="#41474f"/>
<ellipse cx="859.7" cy="827.2" rx="16.2" ry="16.2" fill="#4c525a"/>
<ellipse cx="859.7" cy="827.2" rx="15" ry="15" fill="#41474f"/>
<ellipse cx="893.9" cy="829.9" rx="15.399999999999999" ry="14.6" fill="#4c525a"/>
<ellipse cx="893.9" cy="829.9" rx="14.2" ry="13.4" fill="#41474f"/>
<ellipse cx="928.5" cy="829" rx="16.0" ry="15.5" fill="#4c525a"/>
<ellipse cx="928.5" cy="829" rx="14.8" ry="14.3" fill="#41474f"/>
<ellipse cx="963.2" cy="829.9" rx="16.2" ry="14.5" fill="#4d535b"/>
<ellipse cx="963.2" cy="829.9" rx="15" ry="13.3" fill="#434951"/>
<ellipse cx="986" cy="829.9" rx="4.5" ry="4.5" fill="#434951"/>
<ellipse cx="987.7" cy="837.4" rx="3.5" ry="3.5" fill="#434951"/>
<ellipse cx="1001.7" cy="835.1" rx="1.8" ry="1.8" fill="#434951"/>
</g>
</g>
<g clip-path="url(#c18)">
<g filter="url(#soft)">
<ellipse cx="787.5" cy="874" rx="18.4" ry="17.5" fill="#4c525a"/>
<ellipse cx="787.5" cy="874" rx="17.2" ry="16.3" fill="#41474f"/>
<ellipse cx="823" cy="875.3" rx="15.399999999999999" ry="14.6" fill="#4c525a"/>
<ellipse cx="823" cy="875.3" rx="14.2" ry="13.4" fill="#41474f"/>
<ellipse cx="856.7" cy="877.5" rx="15.799999999999999" ry="15.799999999999999" fill="#4c525a"/>
<ellipse cx="856.7" cy="877.5" rx="14.6" ry="14.6" fill="#41474f"/>
<ellipse cx="889" cy="876.6" rx="15.799999999999999" ry="15.799999999999999" fill="#4c525a"/>
<ellipse cx="889" cy="876.6" rx="14.6" ry="14.6" fill="#41474f"/>
<ellipse cx="925" cy="877" rx="15.2" ry="15.5" fill="#4c525a"/>
<ellipse cx="925" cy="877" rx="14" ry="14.3" fill="#41474f"/>
<ellipse cx="956.2" cy="875.3" rx="13.7" ry="14.6" fill="#4d535b"/>
<ellipse cx="956.2" cy="875.3" rx="12.5" ry="13.4" fill="#434951"/>
<circle cx="984.2" cy="870.1" r="4.2" fill="#434951"/>
<circle cx="996.8" cy="867.5" r="4.2" fill="#434951"/>
<circle cx="999.1" cy="880.6" r="4.2" fill="#434951"/>
<ellipse cx="993" cy="883.2" rx="2.8" ry="2.8" fill="#434951"/>
<ellipse cx="1026.2" cy="875.3" rx="2" ry="2" fill="#b0b6be"/>
</g>
</g>
<rect x="1064" y="757" width="4" height="147" fill="#3f444b" opacity="0.6"/>
<defs><filter id="soft" x="-5%" y="-5%" width="110%" height="110%"><feGaussianBlur stdDeviation="0.9"/></filter><filter id="soft2" x="-5%" y="-5%" width="110%" height="110%"><feGaussianBlur stdDeviation="0.5"/></filter><clipPath id="c1"><rect x="106" y="533" width="307" height="49"/></clipPath><clipPath id="c2"><rect x="106" y="583" width="307" height="47"/></clipPath><clipPath id="c3"><rect x="106" y="630" width="307" height="50"/></clipPath><clipPath id="c4"><rect x="435" y="535" width="307" height="49"/></clipPath><clipPath id="c5"><rect x="435" y="585" width="307" height="48"/></clipPath><clipPath id="c6"><rect x="434" y="633" width="307" height="49"/></clipPath><linearGradient id="g4" x1="0" y1="0" x2="1" y2="0"><stop offset="0" stop-color="#8a8a8a"/><stop offset="1" stop-color="#989898"/></linearGradient><clipPath id="c7"><rect x="766" y="534" width="306" height="47"/></clipPath><clipPath id="c8"><rect x="765" y="581" width="306" height="48"/></clipPath><clipPath id="c9"><rect x="766" y="629" width="306" height="49"/></clipPath><linearGradient id="g294" x1="0" y1="0" x2="0.3" y2="1"><stop offset="0" stop-color="#7b7b7b"/><stop offset="1" stop-color="#6f6f6f"/></linearGradient><clipPath id="c10"><rect x="107" y="756" width="302" height="52"/></clipPath><clipPath id="c11"><rect x="107" y="808" width="302" height="51"/></clipPath><clipPath id="c12"><rect x="107" y="860" width="303" height="46"/></clipPath><clipPath id="c13"><rect x="431" y="758" width="318" height="41"/></clipPath><clipPath id="c14"><rect x="431" y="799" width="318" height="48"/></clipPath><clipPath id="c15"><rect x="431" y="847" width="318" height="59"/></clipPath><linearGradient id="g273" x1="0" y1="1" x2="1" y2="0" gradientUnits="objectBoundingBox"><stop offset="0" stop-color="#535a64"/><stop offset="0.7" stop-color="#5a616b"/><stop offset="1" stop-color="#67707c"/></linearGradient><clipPath id="c16"><rect x="764" y="757" width="304" height="47"/></clipPath><clipPath id="c17"><rect x="764" y="804" width="304" height="46"/></clipPath><clipPath id="c18"><rect x="764" y="850" width="304" height="54"/></clipPath></defs>
</svg>
</body></html>
